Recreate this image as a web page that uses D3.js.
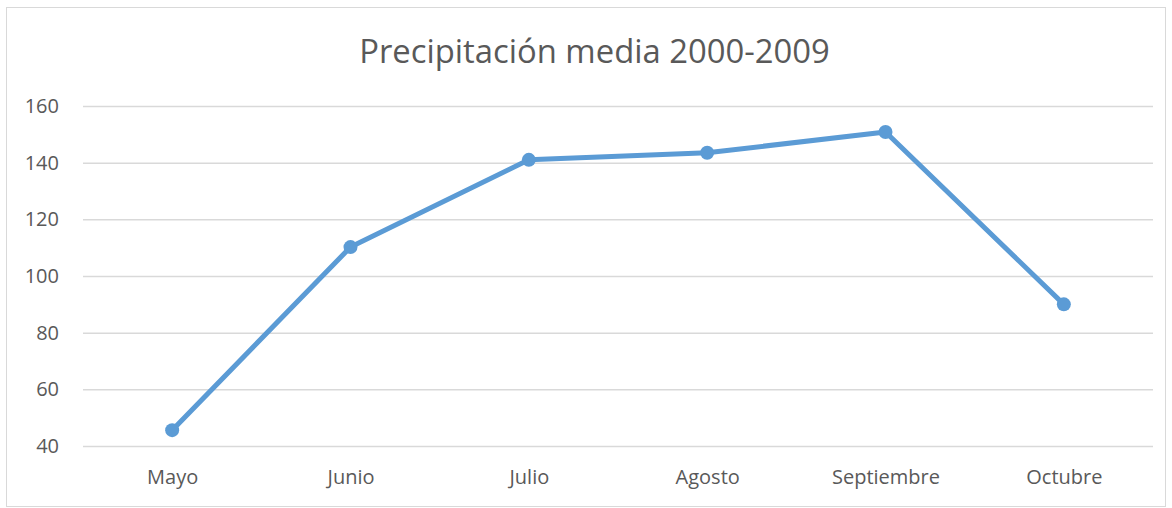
<!DOCTYPE html>
<html><head><meta charset="utf-8">
<script src="https://cdn.jsdelivr.net/npm/d3@7"></script>
<style>body{margin:0;background:#fff}svg{display:block}</style>
</head><body>
<svg id="c" width="1172" height="508"></svg>
<script>
const categories = ["Mayo","Junio","Julio","Agosto","Septiembre","Octubre"];
const values = [45.6, 110.2, 141.0, 143.5, 150.8, 90.0];
const yTicks = [40, 60, 80, 100, 120, 140, 160];
const title = "Precipitación media 2000-2009";

(function(){
const svg = d3.select("#c");
const font = "'Open Sans', 'Liberation Sans', sans-serif";
const textColor = "#595959";

svg.append("rect").attr("x",6.5).attr("y",7.5).attr("width",1159).attr("height",499)
  .attr("fill","#fff").attr("stroke","#d9d9d9").attr("stroke-width",1);

const pLeft = 83, pRight = 1153, pTop = 106, pBottom = 446;
const x = d3.scalePoint().domain(categories).range([pLeft, pRight]).padding(0.5);
const y = d3.scaleLinear().domain([40,160]).range([pBottom, pTop]);

svg.append("text").attr("x", 594.5).attr("y", 63).attr("text-anchor","middle")
  .attr("font-family", font).attr("font-size", 32.8).attr("fill", textColor).text(title);

const yAxis = svg.append("g").attr("transform",`translate(${pLeft},0)`)
  .call(d3.axisLeft(y).tickValues(yTicks).tickSize(-(pRight-pLeft)).tickPadding(24));
yAxis.select(".domain").remove();
yAxis.selectAll(".tick line").attr("stroke","#d9d9d9").attr("stroke-width",1.5);
yAxis.selectAll(".tick text").attr("font-family",font).attr("font-size",20).attr("fill",textColor);

const xAxis = svg.append("g").attr("transform",`translate(0,${pBottom})`)
  .call(d3.axisBottom(x).tickSize(0).tickPadding(24));
xAxis.select(".domain").remove();
xAxis.selectAll(".tick text").attr("font-family",font).attr("font-size",20).attr("fill",textColor);

const line = d3.line().x((d,i)=>x(categories[i])).y(d=>y(d));
svg.append("path").datum(values).attr("d", line).attr("fill","none")
  .attr("stroke","#5b9bd5").attr("stroke-width",5).attr("stroke-linejoin","round");
svg.selectAll("circle.pt").data(values).join("circle").attr("class","pt")
  .attr("cx",(d,i)=>x(categories[i])).attr("cy",d=>y(d)).attr("r",7).attr("fill","#5b9bd5");
})();
</script>
</body></html>
